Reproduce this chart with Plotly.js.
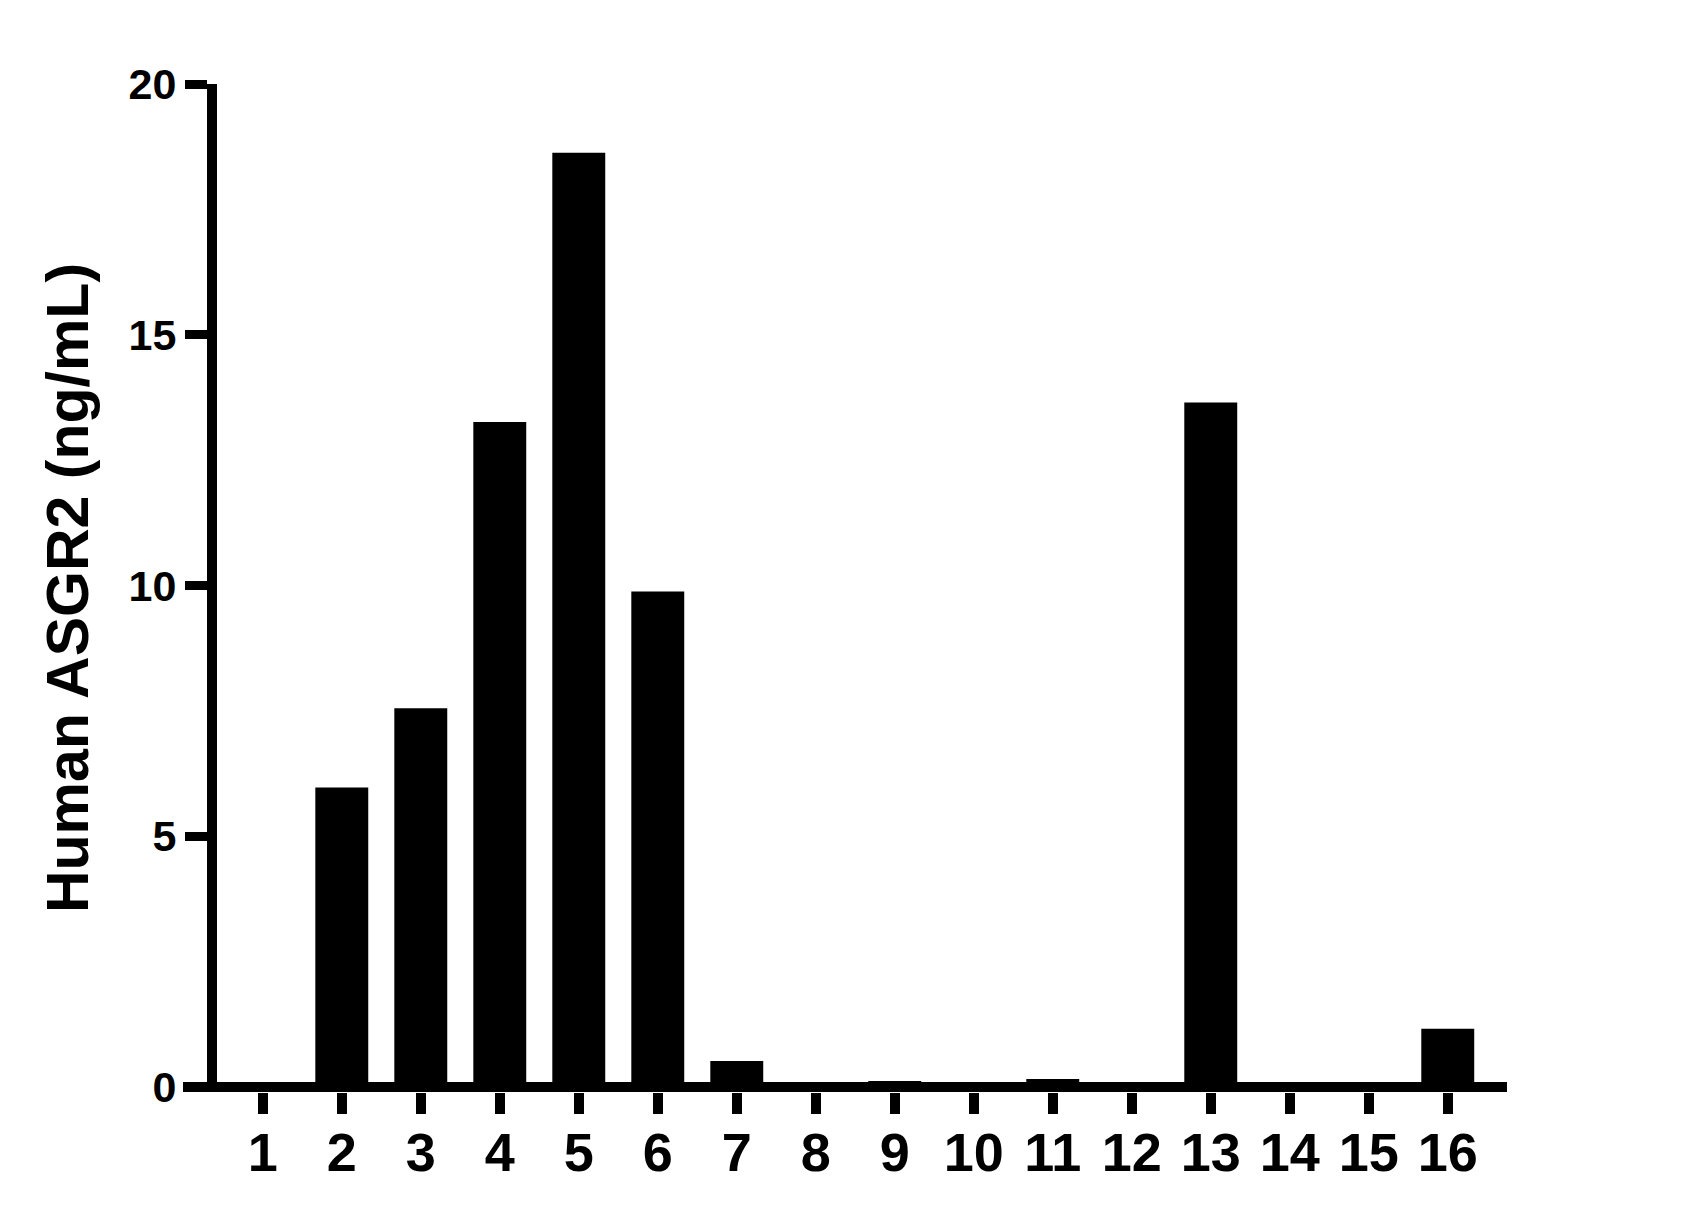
<!DOCTYPE html>
<html>
<head>
<meta charset="utf-8">
<script src="https://cdn.plot.ly/plotly-3.0.1.min.js"></script>
<style>
  html, body { margin: 0; padding: 0; background: #fff; }
  #chart { width: 1683px; height: 1227px; }
</style>
</head>
<body>
<div id="chart"></div>
<script>
// Sample labels on the x axis
var categories = ["1", "2", "3", "4", "5", "6", "7", "8", "9", "10", "11", "12", "13", "14", "15", "16"];
// Human ASGR2 concentration (ng/mL)
var asgr2_values = [0.02, 5.97, 7.55, 13.26, 18.63, 9.88, 0.52, 0.04, 0.12, 0.03, 0.16, 0.02, 13.65, 0.01, 0.01, 1.16];
var y_tick_vals = [0, 5, 10, 15, 20];

var font_family = "'Liberation Sans', Arial, sans-serif";

var data = [
  {
    type: "bar",
    x: categories,
    y: asgr2_values,
    marker: { color: "#000000", line: { width: 0 } },
    hoverinfo: "x+y"
  }
];

var layout = {
  width: 1683,
  height: 1227,
  margin: { l: 183, r: 176, t: 84, b: 135 },
  paper_bgcolor: "#ffffff",
  plot_bgcolor: "#ffffff",
  showlegend: false,
  bargap: 0.33,
  font: { family: font_family, color: "#000000" },
  xaxis: {
    type: "category",
    range: [-1.01, 15.75],
    showgrid: false,
    zeroline: false,
    showline: false,
    ticks: "outside",
    ticklen: 21,
    tickwidth: 10,
    tickcolor: "#000000",
    ticklabelstandoff: -8,
    tickfont: { family: font_family, size: 54, color: "#000000", weight: "bold" }
  },
  yaxis: {
    range: [-0.1, 20],
    anchor: "free",
    position: 0.0219,
    showgrid: false,
    zeroline: true,
    zerolinewidth: 10,
    zerolinecolor: "#000000",
    showline: true,
    linewidth: 10,
    linecolor: "#000000",
    ticks: "outside",
    ticklen: 22,
    tickwidth: 9,
    tickcolor: "#000000",
    tickvals: y_tick_vals,
    tickfont: { family: font_family, size: 43, color: "#000000", weight: "bold" },
    title: {
      text: "Human ASGR2 (ng/mL)",
      standoff: 20,
      font: { family: font_family, size: 59, color: "#000000", weight: "bold" }
    }
  }
};

Plotly.newPlot("chart", data, layout, { displayModeBar: false, staticPlot: true });
</script>
</body>
</html>
